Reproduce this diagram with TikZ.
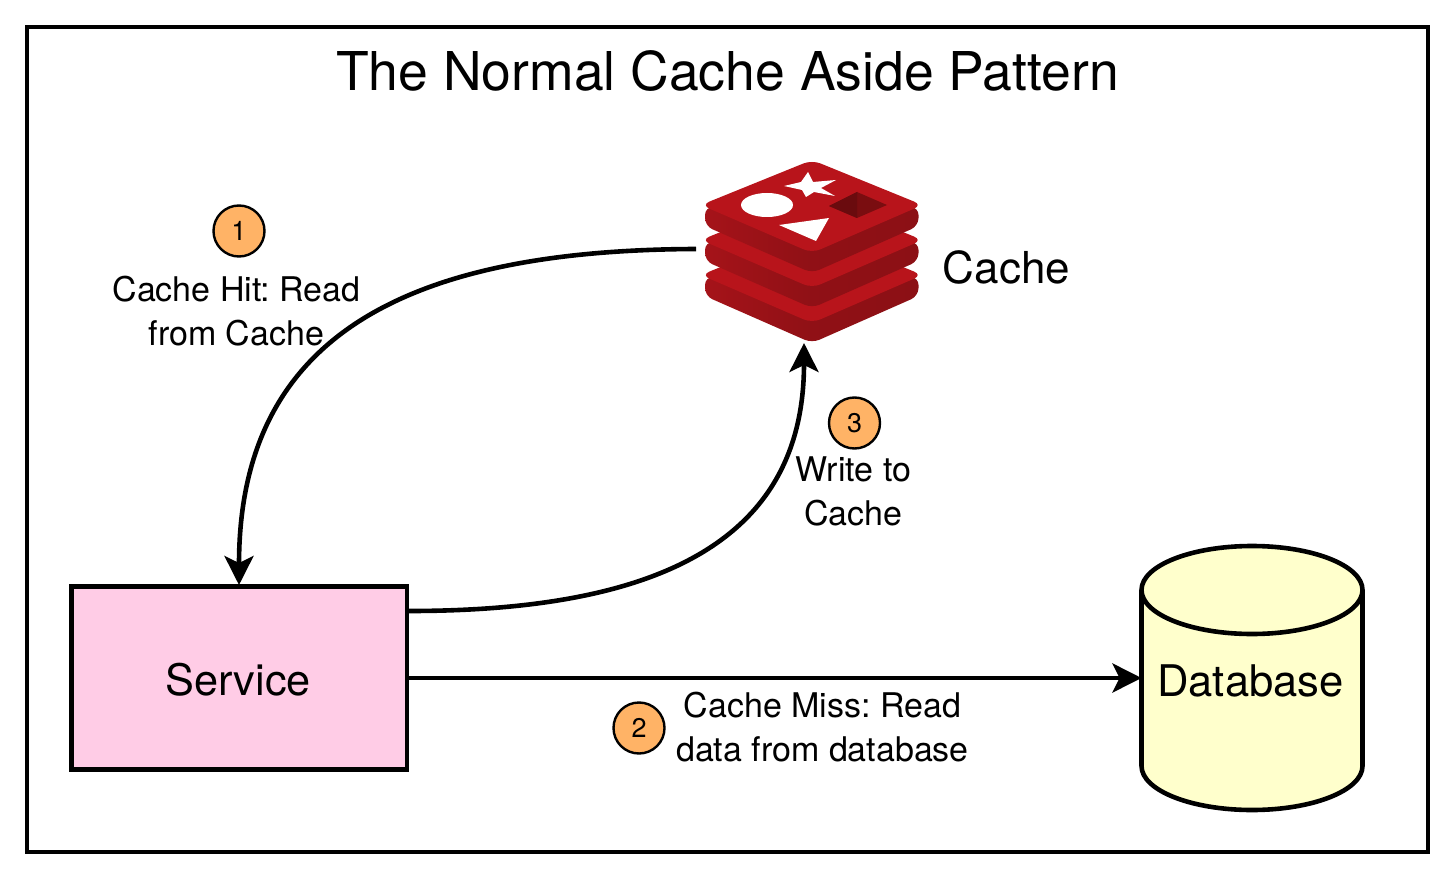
\documentclass[tikz,border=0pt]{standalone}
\usepackage{fontspec}
\setmainfont{TeX Gyre Heros}
\usetikzlibrary{arrows.meta}
\definecolor{redtop}{HTML}{B8141B}
\definecolor{redleft}{HTML}{A51319}
\definecolor{redright}{HTML}{8C1015}
\definecolor{reddark}{HTML}{7A0D10}
\definecolor{reddeep}{HTML}{6A0B0E}
\definecolor{badge}{HTML}{FFB366}
\definecolor{svc}{HTML}{FFCCE6}
\definecolor{dbfill}{HTML}{FFFFCC}
\newcommand{\fsz}[1]{\fontsize{#1}{#1}\selectfont\frenchspacing}
\newcommand{\redislayer}[1]{%
  \shade[left color=redleft,right color=redright,middle color=redright!85!redleft,rounded corners=8pt] (705,{#1+44}) -- (705,{#1+63}) -- (812,{#1+110}) -- (918.5,{#1+63}) -- (918.5,{#1+44}) -- cycle;
  \fill[redtop,rounded corners=9pt] (812,{#1-3}) -- (701,{#1+42}) -- (812,{#1+90}) -- (922.5,{#1+42}) -- cycle;
}
\tikzset{
  x=1pt,y=-1pt,
  lbl/.style={align=center,font=\fsz{34},inner sep=0pt,text depth=0pt},
  numbadge/.style={circle,draw=black,line width=2.4pt,fill=badge,minimum size=51pt,inner sep=0pt,font=\fsz{27}},
  box/.style={draw=black,line width=4.6pt,inner sep=0pt,outer sep=0pt},
  conn/.style={draw=black,line width=4.6pt,-{Stealth[length=29pt,width=29pt,inset=7pt]}},
}
\begin{document}
\begin{tikzpicture}
\useasboundingbox (0,0) rectangle (1456,877);
\fill[white] (0,0) rectangle (1456,877);
\draw[black,line width=4.2pt] (27,27) rectangle (1428,852);
\node[font=\fsz{53.5},inner sep=0pt] (title) at (727.5,71) {The Normal Cache Aside Pattern};
% Redis logo
\redislayer{233}
\redislayer{198}
\redislayer{163}
\fill[white] (767,205) ellipse [x radius=26,y radius=12];
\fill[white] (808,172) -- (813,182) -- (836,180) -- (821,188) -- (835,196) -- (814,192) -- (806,197) -- (802,190) -- (784,186) -- (801,182) -- cycle;
\fill[white] (779,225) -- (829,218) -- (816,241) -- cycle;
\fill[reddark] (857,192) -- (887,205) -- (857,218) -- (829,206) -- cycle;
\fill[reddeep] (857,192) -- (857,218) -- (829,206) -- cycle;
\node[inner sep=0pt,outer sep=0pt,minimum width=213pt,minimum height=180pt] (redis) at (812,252.5) {};
\node[font=\fsz{44},inner sep=0pt] (cachelbl) at (1006.5,267) {Cache};
% Service
\node[box,fill=svc,minimum width=335.5pt,minimum height=182.5pt] (service) at (239.3,678) {};
\node[font=\fsz{43.3},inner sep=0pt] (svclbl) at (238,680) {Service};
% Database
\node[inner sep=0pt,outer sep=0pt,minimum width=221pt,minimum height=264pt] (db) at (1252,678) {};
\draw[black,line width=4.6pt,fill=dbfill] (db.north west) ++(0,44) arc [start angle=180,end angle=360,x radius=110.5,y radius=44]
  -- ++(0,176) arc [start angle=0,end angle=180,x radius=110.5,y radius=44] -- cycle;
\draw[black,line width=4.6pt] (db.north west) ++(0,44) arc [start angle=180,end angle=0,x radius=110.5,y radius=44];
\node[font=\fsz{43.6},inner sep=0pt] (dblbl) at (1250.5,680.5) {Database};
% connectors
\coordinate (hitstart) at (696,249);
\coordinate (hitend) at (239,585);
\coordinate (writestart) at (409,611);
\coordinate (writeend) at (804,343);
\draw[conn] (hitstart) .. controls (400,250) and (239,340) .. (hitend);
\draw[conn] (writestart) .. controls (660,611) and (804,540) .. (writeend);
\draw[conn] (service.east) -- (db.west);
% badges and labels
\node[numbadge] (b1) at (239,231) {1};
\node[numbadge] (b3) at (854.5,423) {3};
\node[numbadge] (b2) at (639,728) {2};
\node[lbl] (l1) at (236.5,311) {Cache Hit: Read\\[10pt]from Cache};
\node[lbl] (l3) at (853.5,491) {Write to\\[10pt]Cache};
\node[lbl] (l2) at (822.5,727) {Cache Miss: Read\\[10pt]data from database};
\end{tikzpicture}
\end{document}
